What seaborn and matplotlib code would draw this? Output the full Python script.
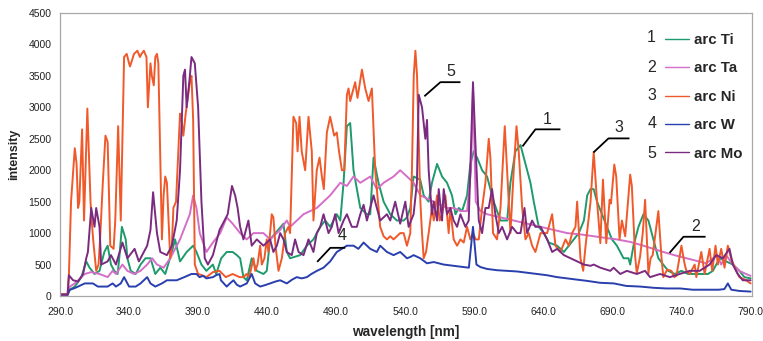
import matplotlib
matplotlib.use("Agg")
import matplotlib.pyplot as plt
import pandas as pd
import seaborn as sns

# ---------------- data (wavelength nm, intensity) ----------------
series_names = ["arc Ti", "arc Ta", "arc Ni", "arc W", "arc Mo"]
series_numbers = ["1", "2", "3", "4", "5"]
x_ticks = [290, 340, 390, 440, 490, 540, 590, 640, 690, 740, 790]
y_ticks = [0, 500, 1000, 1500, 2000, 2500, 3000, 3500, 4000, 4500]

ti_data = [
    (290, 20), (295.5, 20), (297.1, 100), (300.7, 150), (305.5, 300), (309, 550), (311.4, 450),
    (315, 350), (318.6, 400), (322.1, 700), (324.5, 800), (326.9, 500), (329.3, 400), (331.7, 350),
    (332.9, 600), (334.8, 1100), (337.6, 900), (338.8, 600), (341.2, 400), (344.8, 350), (348.3, 500),
    (351.9, 600), (355.5, 600), (359, 350), (362.6, 450), (366.2, 350), (371, 700), (373.3, 900),
    (376.9, 550), (381.7, 700), (386.4, 800), (388.8, 700), (392.4, 500), (396, 400), (400.7, 500),
    (403.1, 350), (406.7, 600), (410.7, 700), (415, 700), (418, 650), (420.4, 600), (422.8, 300),
    (425.2, 250), (428.8, 600), (432.5, 400), (437.3, 350), (439.7, 400), (442.1, 900), (451.8, 1150),
    (454.2, 700), (456.6, 600), (463.9, 650), (468.7, 800), (473.5, 900), (478.4, 1100), (482, 1200),
    (485.6, 1100), (490.4, 1300), (492.9, 1200), (495.3, 1800), (497.7, 2700), (500.1, 2750),
    (502.5, 2000), (507.4, 1400), (512.2, 1300), (514.6, 1300), (517, 2200), (520.6, 1800),
    (524.3, 1500), (529.1, 1300), (533.9, 1200), (538.8, 1200), (541.2, 1250), (543.6, 1400),
    (546, 1900), (550.8, 1850), (553.3, 1600), (556.9, 1500), (559.3, 1800), (563, 2100),
    (566.6, 1900), (570.2, 1800), (573.8, 1600), (576.3, 1300), (578.7, 1400), (581.1, 1350),
    (584.7, 1600), (587.1, 2100), (589.5, 2300), (592, 2200), (595.6, 2000), (599.2, 1900),
    (604, 1500), (608.9, 1200), (613.7, 1200), (616.1, 1800), (619.7, 2300), (623.4, 2400),
    (627, 2100), (630.6, 1800), (633, 1500), (636.6, 1100), (640.3, 1000), (643.9, 850),
    (649.9, 800), (654.8, 700), (658.4, 800), (662, 900), (665.6, 1000), (669.3, 1200),
    (671.7, 1600), (674.1, 1700), (676.4, 1700), (678.8, 1500), (682.4, 1300), (686, 1100),
    (689.6, 900), (693.2, 800), (695.6, 700), (698, 600), (701.6, 600), (702.8, 500), (705.2, 800),
    (708.8, 1100), (712.4, 1300), (716, 1200), (719.6, 900), (723.2, 600), (726.8, 500),
    (730.3, 400), (735.1, 350), (739.9, 400), (744.7, 350), (749.5, 350), (754.3, 350),
    (759.1, 350), (762.7, 400), (767.5, 600), (772.3, 550), (777.1, 500), (781.9, 400),
    (785.5, 300), (790, 280),
]

ta_data = [
    (290, 20), (295.5, 20), (297.1, 150), (300.7, 200), (307.9, 350), (312.6, 380), (318.6, 350),
    (324.5, 300), (328.1, 400), (330.5, 350), (335.2, 500), (338.8, 400), (343.6, 350), (348.3, 400),
    (353.1, 500), (356.7, 600), (360.2, 500), (365, 450), (369.8, 600), (376.9, 900), (384, 1300),
    (386.4, 1600), (388.8, 1400), (391.2, 1000), (396, 700), (400.7, 850), (406, 1000),
    (410.7, 1250), (415, 1150), (420.4, 1000), (425.2, 900), (430.1, 1000), (437.3, 1000),
    (442.1, 900), (449.4, 1050), (454.2, 1200), (456.6, 1100), (466.3, 1300), (475.9, 1400),
    (480.8, 1500), (485.6, 1600), (492.9, 1800), (497.7, 1750), (502.5, 1900), (507.4, 1800),
    (514.6, 1900), (519.4, 1700), (524.3, 1800), (531.5, 1900), (536.3, 2000), (541.2, 1900),
    (546, 1800), (550.9, 1600), (555.7, 1550), (560.6, 1500), (565.4, 1450), (570.2, 1400),
    (575, 1400), (579.9, 1350), (584.7, 1350), (587.6, 2000), (589, 3300), (591, 1500),
    (594.4, 1350), (599.2, 1300), (608.9, 1250), (618.5, 1200), (628.2, 1150), (637.9, 1100),
    (647.5, 1050), (657.2, 1000), (666.8, 980), (676.4, 950), (686, 920), (693.2, 900),
    (702.8, 860), (712.4, 800), (719.6, 750), (726.8, 700), (734.7, 650), (743.5, 600),
    (750.7, 560), (757.9, 520), (762.7, 600), (765.9, 650), (768.7, 500), (772.3, 650),
    (777.1, 500), (781.9, 400), (786.7, 350), (790, 320),
]

ni_data = [
    (290, 30), (295.5, 30), (296.4, 300), (298, 1500), (300.7, 2350), (302, 2100), (303.1, 1400),
    (304, 1500), (306, 2650), (307.4, 1200), (309.8, 2980), (311, 2200), (312.1, 1500),
    (312.6, 1300), (314, 900), (316.2, 400), (317.9, 500), (319, 900), (321, 1800), (322.9, 2550),
    (324.5, 2450), (326.4, 800), (328.8, 750), (330, 1200), (332.1, 2700), (334, 1200),
    (336.4, 3800), (338.3, 3850), (340, 3700), (340.7, 3650), (343.6, 3850), (346, 3900),
    (347.9, 3800), (349, 3850), (350.7, 3900), (352.6, 3800), (353.6, 3000), (355.5, 3700),
    (356.5, 3500), (357.9, 3350), (359, 3800), (360.2, 3850), (361.2, 3700), (362.6, 2200),
    (363.8, 900), (365, 1600), (366.2, 1900), (367.4, 1800), (369.8, 600), (371, 800),
    (372.1, 1400), (374, 1500), (376.9, 2900), (378, 2800), (379.3, 2550), (381, 2900),
    (384, 3400), (385.2, 3500), (386.4, 2800), (387.6, 500), (390, 350), (393, 330), (396, 300),
    (400.7, 380), (405.5, 400), (410, 300), (415, 350), (420, 300), (422.8, 300), (425, 350),
    (427, 300), (430.1, 600), (431.3, 400), (433, 500), (434.9, 800), (436.1, 500), (438, 600),
    (439.7, 900), (440.9, 700), (443.3, 1300), (444.5, 1250), (446, 800), (448.2, 400),
    (450.6, 600), (453, 1000), (455.4, 1100), (456.6, 1000), (459, 2850), (461, 2750),
    (462, 2300), (463.4, 2850), (465, 2300), (467.5, 2000), (469.9, 2850), (472.3, 2300),
    (473.5, 1200), (475.9, 2000), (477.9, 2200), (479.6, 1900), (481, 1700), (483.2, 2600),
    (485.6, 2850), (488.5, 2550), (490.4, 2600), (492, 2300), (494.1, 2000), (495.8, 2000),
    (497.7, 3200), (498.9, 3300), (500.1, 3100), (503.7, 3400), (505.4, 3150), (508.6, 3600),
    (511, 3300), (513.4, 3100), (515.8, 3300), (518.2, 2000), (521.8, 1100), (524.3, 950),
    (526.7, 900), (529.1, 950), (531.5, 900), (536.3, 1000), (538.8, 1000), (541.2, 800),
    (543.6, 1000), (544.8, 2000), (546.1, 3500), (547.3, 3900), (548.5, 3500), (550.9, 1500),
    (552.1, 1000), (553.3, 600), (555, 700), (556.9, 1000), (559.3, 1400), (560.6, 1200),
    (563, 1600), (564.9, 1200), (566.6, 1300), (569, 1600), (571.4, 1000), (572.6, 1400),
    (575, 900), (577.5, 800), (579.9, 900), (582.3, 850), (584.7, 1100), (587.1, 900),
    (589, 1000), (591, 900), (593.2, 900), (595.6, 1400), (598, 1800), (600.4, 2500),
    (601.6, 2200), (603.5, 1000), (606.4, 900), (608.9, 1400), (612, 2700), (613.7, 2000),
    (616.1, 1000), (618.5, 2000), (620.5, 2700), (622.1, 2300), (624.6, 1400), (627, 900),
    (629.4, 1000), (631.8, 800), (634.2, 700), (637.9, 1000), (642.7, 1000), (646.3, 1300),
    (648.7, 800), (652.3, 700), (656, 900), (658.4, 800), (660.8, 1000), (663.2, 1100),
    (664.4, 1500), (666.8, 600), (668.8, 400), (670.5, 800), (674.1, 1500), (676.4, 2290),
    (678.5, 1600), (681.2, 840), (683.1, 1850), (685.5, 840), (687.9, 1530), (688.9, 1470),
    (691.3, 2090), (692.7, 1900), (695.1, 900), (696.8, 1200), (699.2, 950), (702.8, 1930),
    (704, 1750), (706.4, 630), (707.6, 360), (710, 630), (711.9, 1000), (713.6, 1530),
    (716, 360), (717.6, 600), (719.1, 650), (723.2, 1350), (725.5, 600), (726.8, 300),
    (729.6, 420), (732.7, 400), (734.7, 300), (736.3, 320), (739.9, 800), (742.3, 500),
    (743.5, 400), (745.9, 350), (749.5, 500), (750.7, 300), (754.3, 700), (756.7, 350),
    (760.3, 750), (762.2, 400), (764.6, 800), (766.3, 500), (768.7, 750), (771.1, 450),
    (773.5, 800), (775.9, 600), (779.5, 400), (781.9, 300), (786.7, 250), (790, 200),
]

w_data = [
    (290, 20), (295.5, 20), (297.1, 100), (300, 120), (303.1, 150), (307.9, 200), (313.8, 200),
    (317.4, 150), (324.5, 150), (328.1, 200), (330.5, 150), (334, 200), (336.4, 300), (340, 150),
    (344.8, 150), (348.3, 200), (353.1, 300), (355.5, 200), (359, 150), (363.8, 200),
    (367.4, 250), (374.5, 250), (380, 300), (385.2, 350), (388.8, 350), (391, 300), (393.6, 320),
    (396, 280), (400.7, 300), (403, 330), (405.5, 350), (406.5, 250), (410.7, 150), (413, 200),
    (415.6, 250), (418, 180), (420.4, 150), (425.2, 200), (428.8, 350), (431.3, 200),
    (434.9, 150), (438, 170), (442.1, 200), (446, 230), (449.4, 250), (454.2, 200), (458, 260),
    (461.4, 300), (465, 280), (468.7, 300), (472, 350), (476, 400), (480.8, 450), (485.6, 550),
    (490.4, 700), (494, 750), (497.7, 800), (502.5, 800), (506, 750), (509.8, 850),
    (514.6, 750), (519.4, 700), (521.8, 800), (526.7, 700), (531.5, 650), (536.3, 700),
    (541.2, 600), (543.6, 620), (546, 650), (550.8, 600), (555.7, 520), (560.6, 540),
    (567.8, 500), (575, 480), (582.3, 460), (586, 450), (589, 1100), (591.5, 500), (594.4, 460),
    (599.2, 430), (606.4, 410), (613.7, 400), (620.9, 390), (628.2, 370), (635.4, 350),
    (642.7, 330), (649.9, 300), (657.2, 280), (664.4, 260), (671.7, 240), (681, 210),
    (691, 200), (700, 160), (710, 150), (720, 130), (729, 120), (739, 120), (748, 100),
    (758, 100), (767, 100), (771, 110), (773.5, 200), (776, 100), (782, 80), (790, 70),
]

mo_data = [
    (290, 20), (295.5, 20), (296.4, 330), (299.5, 250), (303.1, 230), (306.7, 350), (309, 600),
    (310.2, 700), (312.6, 1400), (315, 1100), (316.2, 1400), (318.6, 1100), (319.8, 500),
    (324.5, 550), (326.9, 650), (330.5, 500), (335.2, 850), (338.8, 600), (344, 750),
    (347.1, 550), (353.1, 800), (355.5, 1050), (357.4, 1650), (360.2, 1000), (362.6, 700),
    (367.4, 650), (371, 800), (374.5, 1200), (376.9, 2000), (379.3, 3500), (380.5, 3600),
    (381.7, 3000), (383.6, 3400), (385.2, 3800), (387.6, 3700), (390, 3000), (392.4, 1500),
    (394.8, 600), (397.1, 500), (400.7, 650), (405.5, 1050), (407.9, 1150), (411.4, 1300),
    (414.5, 1750), (416.8, 1600), (418.6, 1400), (420.4, 1100), (422.8, 900), (426.4, 1200),
    (428.8, 800), (432.5, 900), (437.3, 800), (442.1, 900), (444.5, 700), (447, 800),
    (449.4, 1000), (451.8, 900), (454.2, 700), (457.8, 650), (460.2, 900), (462.7, 700),
    (466.3, 650), (469.9, 900), (473.5, 700), (475.9, 1000), (478.4, 1100), (480.8, 1300),
    (484.4, 1000), (486.8, 1100), (489.2, 1300), (491.7, 1000), (495.3, 1200), (497.7, 1300),
    (501.3, 1100), (504.9, 1100), (507.4, 1300), (509.8, 1450), (512.2, 1200), (517, 1600),
    (521.8, 1200), (526.7, 1300), (529.1, 1200), (532.7, 1500), (536.3, 1150), (540, 1500),
    (542.4, 1100), (546, 1300), (548.4, 1800), (549.7, 3200), (552.1, 3000), (554.5, 2500),
    (555.7, 2800), (556.9, 2000), (559.3, 1300), (560.6, 1500), (563, 1200), (564.2, 1700),
    (566.6, 1200), (567.8, 1700), (570.2, 1300), (572.6, 1400), (575, 1200), (577.5, 1100),
    (579.9, 1300), (583.5, 1100), (585.9, 1200), (589, 3400), (591, 2300), (593.2, 1200),
    (595.6, 1000), (598, 1400), (600.4, 1400), (602.8, 1700), (605.2, 1300), (607.7, 1000),
    (610.1, 1100), (613.7, 900), (617.3, 1100), (620.9, 1000), (623.4, 1000), (626.3, 1400),
    (628.2, 1000), (631.8, 1200), (634.2, 1100), (637.9, 1100), (642.7, 900), (646.3, 700),
    (649.9, 750), (654.8, 650), (659.6, 600), (664.4, 550), (669.3, 500), (674.1, 480),
    (676.4, 500), (681.2, 450), (688.4, 400), (690.8, 450), (695.6, 350), (700.4, 400),
    (707.6, 350), (713.6, 400), (717.2, 300), (724.4, 350), (731.5, 300), (738.7, 350),
    (745.9, 400), (753.1, 400), (760.3, 500), (765.1, 650), (769.9, 600), (774.7, 750),
    (777.1, 500), (780.7, 350), (784.3, 250), (790, 250),
]

series_data = [ti_data, ta_data, ni_data, w_data, mo_data]
colors = ["#1e9a6c", "#d46ec8", "#f0592a", "#2a3fae", "#7b2b7f"]

# ---------------- build long-form table ----------------
rows = []
for name, pts in zip(series_names, series_data):
    for wl, val in pts:
        rows.append({"wavelength": wl, "intensity": val, "series": name})
df = pd.DataFrame(rows)

sns.set_style("white")
plt.rcParams["font.family"] = ["Liberation Sans", "DejaVu Sans"]

W, H = 763, 341
fig = plt.figure(figsize=(W / 100, H / 100), dpi=100)
ax = fig.add_axes([60 / W, 45 / H, 692 / W, 283 / H])

sns.lineplot(data=df, x="wavelength", y="intensity", hue="series",
             hue_order=series_names, palette=dict(zip(series_names, colors)),
             estimator=None, sort=False, linewidth=1.4, ax=ax, legend=False)

ax.set_xlim(290, 791)
ax.set_ylim(0, 4500)
ax.set_xticks(x_ticks)
ax.set_xticklabels([f"{t:.1f}" for t in x_ticks])
ax.set_yticks(y_ticks)
ax.set_yticklabels([str(t) for t in y_ticks])
for sp in ax.spines.values():
    sp.set_color("#a8a8a8")
    sp.set_linewidth(0.9)
    sp.set_visible(True)
ax.tick_params(axis="both", direction="out", length=3, width=0.8, color="#a8a8a8",
               labelsize=7.5, labelcolor="#222222", pad=3)
ax.tick_params(axis="x", pad=5)
ax.set_xlabel("wavelength [nm]", fontsize=9.8, fontweight="bold", labelpad=6)
ax.set_ylabel("intensity", fontsize=9, fontweight="bold", labelpad=6)
ax.grid(False)

# ---------------- legend with numbers ----------------
handles = ax.lines[:5]
leg = ax.legend(handles, series_names, loc="upper left", bbox_to_anchor=(0.874, 0.929),
                frameon=False, borderpad=0, borderaxespad=0, handlelength=1.6,
                handletextpad=0.35, labelspacing=0.96,
                prop={"size": 10.8, "weight": "bold"})
for ln in leg.get_lines():
    ln.set_linewidth(1.0)
row_y = [0.912, 0.806, 0.710, 0.608, 0.505]
for num, yy in zip(series_numbers, row_y):
    ax.text(0.855, yy, num, transform=ax.transAxes, ha="center", va="center", fontsize=11.5)

# ---------------- leader-line annotations ----------------
leaders = [
    ("1", [624.8, 634.2, 652.3], [2378, 2650, 2650], (642.9, 2809)),
    ("2", [731.3, 741.4, 757.4], [686, 942, 942], (750.1, 1101)),
    ("3", [676.2, 687.1, 702.3], [2282, 2506, 2506], (694.3, 2681)),
    ("4", [476.2, 485.7, 496.5], [543, 766, 766], (494.3, 958)),
    ("5", [553.8, 565.4, 579.9], [3176, 3400, 3400], (572.6, 3575)),
]
for lab, xs, ys, (tx, ty) in leaders:
    ax.plot(xs, ys, color="black", linewidth=1.3, solid_capstyle="butt")
    ax.text(tx, ty, lab, ha="center", va="center", fontsize=11.5)

fig.savefig("out.png", dpi=100)
